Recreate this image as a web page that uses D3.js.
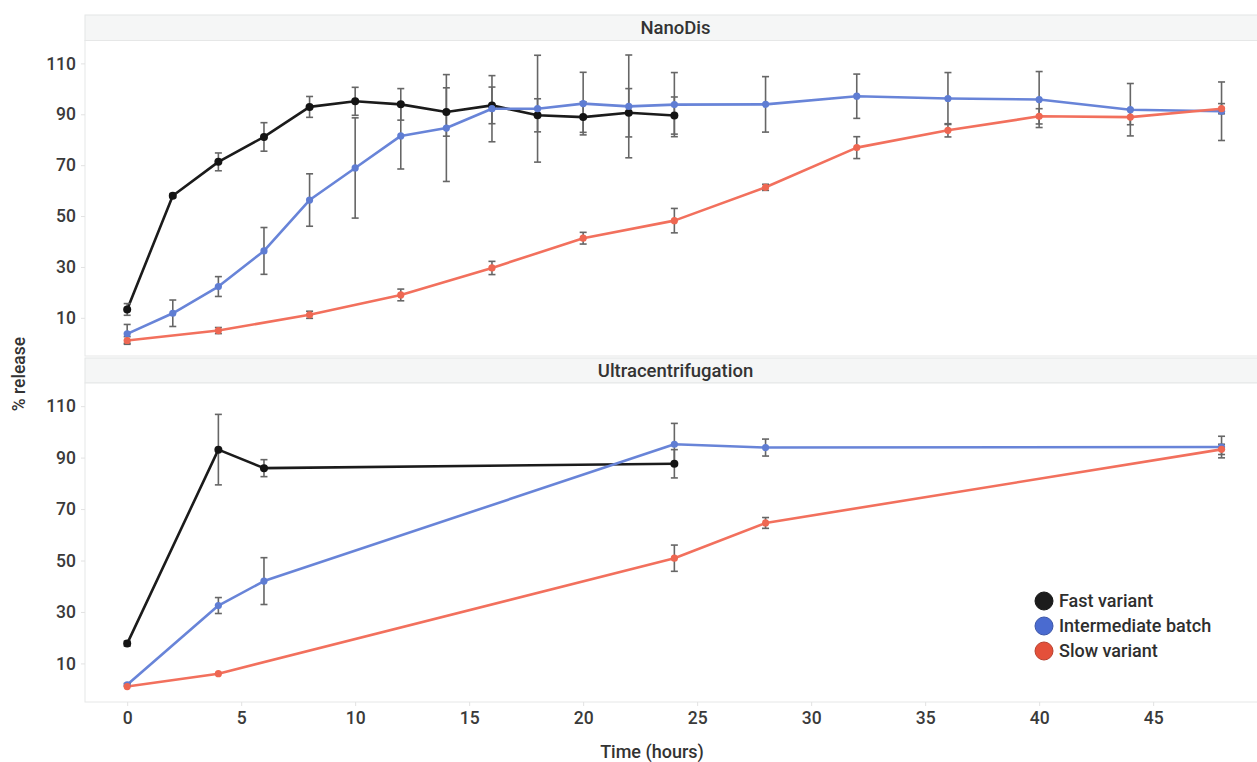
<!DOCTYPE html>
<meta charset="utf-8">
<script src="https://d3js.org/d3.v7.min.js"></script>
<style>
body { margin: 0; background: #fff; }
text { font-family: Roboto, "Noto Sans", sans-serif; }
</style>
<body>
<script>

// panel names and series
var panelNames = ["NanoDis", "Ultracentrifugation"];
var seriesNames = ["Fast variant", "Intermediate batch", "Slow variant"];
var xTicks = [0, 5, 10, 15, 20, 25, 30, 35, 40, 45];
var yTicks = [10, 30, 50, 70, 90, 110];

// NanoDis
var nanoFastTime = [0, 2, 4, 6, 8, 10, 12, 14, 16, 18, 20, 22, 24];
var nanoFastMean = [13.3, 58.0, 71.3, 81.1, 92.9, 95.1, 93.9, 90.9, 93.5, 89.6, 88.9, 90.6, 89.5];
var nanoFastErr  = [2.3, 0.8, 3.5, 5.6, 4.1, 5.5, 6.2, 9.5, 7.2, 6.5, 6.0, 9.5, 7.3];

var nanoInterTime = [0, 2, 4, 6, 8, 10, 12, 14, 16, 18, 20, 22, 24, 28, 32, 36, 40, 44, 48];
var nanoInterMean = [3.7, 11.8, 22.3, 36.3, 56.3, 68.9, 81.5, 84.6, 92.2, 92.2, 94.2, 93.1, 93.8, 93.9, 97.1, 96.2, 95.8, 91.8, 91.2];
var nanoInterErr  = [3.7, 5.2, 3.9, 9.2, 10.3, 19.7, 13.0, 21.0, 13.0, 21.0, 12.3, 20.2, 12.6, 10.9, 8.7, 10.2, 11.0, 10.3, 11.5];

var nanoSlowTime = [0, 4, 8, 12, 16, 20, 24, 28, 32, 36, 40, 44, 48];
var nanoSlowMean = [1.1, 5.0, 11.2, 19.0, 29.6, 41.3, 48.2, 61.3, 76.9, 83.7, 89.2, 88.9, 92.2];
var nanoSlowErr  = [1.5, 1.2, 1.4, 2.3, 2.6, 2.3, 4.8, 1.2, 4.3, 2.6, 3.0, 3.0, 2.0];

// Ultracentrifugation
var ultraFastTime = [0, 4, 6, 24];
var ultraFastMean = [17.7, 93.1, 85.9, 87.6];
var ultraFastErr  = [1.0, 13.7, 3.3, 5.5];

var ultraInterTime = [0, 4, 6, 24, 28, 48];
var ultraInterMean = [1.7, 32.5, 42.0, 95.2, 93.9, 94.1];
var ultraInterErr  = [0.5, 3.1, 9.1, 8.1, 3.3, 4.2];

var ultraSlowTime = [0, 4, 24, 28, 48];
var ultraSlowMean = [1.0, 6.0, 50.9, 64.6, 93.2];
var ultraSlowErr  = [0, 0, 5.1, 2.1, 2.0];

function pts(t, m, e) {
  return t.map(function(d, i) { return {t: d, m: m[i], e: e[i]}; });
}

var panelData = [
  [pts(nanoFastTime, nanoFastMean, nanoFastErr),
   pts(nanoInterTime, nanoInterMean, nanoInterErr),
   pts(nanoSlowTime, nanoSlowMean, nanoSlowErr)],
  [pts(ultraFastTime, ultraFastMean, ultraFastErr),
   pts(ultraInterTime, ultraInterMean, ultraInterErr),
   pts(ultraSlowTime, ultraSlowMean, ultraSlowErr)]
];

var lineColors   = ["#1b1b1b", "#6884d8", "#f2705d"];
var pointColors  = ["#141414", "#5f7dd3", "#ee6752"];
var legendColors = ["#1c1c1c", "#4a6bd0", "#e4503a"];

var width = 1257, height = 762;
var left = 85, right = 1266;
var panels = [
  {stripTop: 15, top: 40.5, bottom: 356},
  {stripTop: 358, top: 383, bottom: 702}
];

var svg = d3.select("body")
  .append("svg")
    .attr("width", width)
    .attr("height", height);

var x = d3.scaleLinear()
  .domain([-1.85, 49.95])
  .range([left, right]);

panels.forEach(function(p, pi) {
  var y = d3.scaleLinear()
    .domain([-5, 119])
    .range([p.bottom, p.top]);

  // strip
  svg.append("rect")
    .attr("x", left).attr("y", p.stripTop)
    .attr("width", right - left).attr("height", p.top - p.stripTop)
    .attr("fill", "#f5f6f6")
    .attr("stroke", "#e4e6e6");
  svg.append("text")
    .attr("x", (left + right) / 2)
    .attr("y", (p.stripTop + p.top) / 2)
    .attr("dy", "0.35em")
    .attr("text-anchor", "middle")
    .style("font-size", "18.5px")
    .style("font-weight", 500)
    .style("fill", "#333")
    .text(panelNames[pi]);

  // plot area
  svg.append("rect")
    .attr("x", left).attr("y", p.top)
    .attr("width", right - left).attr("height", p.bottom - p.top)
    .attr("fill", "#fff")
    .attr("stroke", "#e6e7e7");

  // y axis
  var ya = svg.append("g")
    .attr("transform", "translate(" + left + ",0)")
    .call(d3.axisLeft(y).tickValues(yTicks).tickSize(4).tickPadding(5));
  ya.select(".domain").remove();
  ya.selectAll(".tick line").attr("stroke", "#e2e2e2");
  ya.selectAll(".tick text")
    .style("font-size", "17.5px")
    .style("font-weight", 500)
    .style("fill", "#3a3a3a");

  var line = d3.line()
    .x(function(d) { return x(d.t); })
    .y(function(d) { return y(d.m); });

  var series = panelData[pi];

  // lines
  series.forEach(function(s, si) {
    svg.append("path")
      .datum(s)
      .attr("fill", "none")
      .attr("stroke", lineColors[si])
      .attr("stroke-width", 2.6)
      .attr("stroke-linejoin", "round")
      .attr("d", line);
  });

  // error bars
  series.forEach(function(s, si) {
    var g = svg.append("g")
      .attr("stroke", "#666")
      .attr("stroke-width", 1.6);
    var eb = g.selectAll("g")
      .data(s.filter(function(d) { return d.e > 0; }))
      .enter().append("g");
    eb.append("line")
      .attr("x1", function(d) { return x(d.t); })
      .attr("x2", function(d) { return x(d.t); })
      .attr("y1", function(d) { return y(d.m - d.e); })
      .attr("y2", function(d) { return y(d.m + d.e); });
    [-1, 1].forEach(function(sign) {
      eb.append("line")
        .attr("x1", function(d) { return x(d.t) - 3.5; })
        .attr("x2", function(d) { return x(d.t) + 3.5; })
        .attr("y1", function(d) { return y(d.m + sign * d.e); })
        .attr("y2", function(d) { return y(d.m + sign * d.e); });
    });
  });

  // points
  series.forEach(function(s, si) {
    svg.append("g")
      .selectAll("circle")
      .data(s)
      .enter()
      .append("circle")
        .attr("cx", function(d) { return x(d.t); })
        .attr("cy", function(d) { return y(d.m); })
        .attr("r", si == 0 ? 4 : 3.6)
        .attr("fill", pointColors[si]);
  });
});

// x axis under the bottom panel
var xa = svg.append("g")
  .attr("transform", "translate(0," + panels[1].bottom + ")")
  .call(d3.axisBottom(x).tickValues(xTicks).tickSize(4).tickPadding(6));
xa.select(".domain").remove();
xa.selectAll(".tick line").attr("stroke", "#e2e2e2");
xa.selectAll(".tick text")
  .style("font-size", "17.5px")
  .style("font-weight", 500)
  .style("fill", "#3a3a3a");

// axis titles
svg.append("text")
  .attr("x", 652).attr("y", 752)
  .attr("dy", "0.35em")
  .attr("text-anchor", "middle")
  .style("font-size", "18px")
  .style("font-weight", 500)
  .style("fill", "#333")
  .text("Time (hours)");

svg.append("text")
  .attr("transform", "translate(19,374) rotate(-90)")
  .attr("dy", "0.35em")
  .attr("text-anchor", "middle")
  .style("font-size", "17.5px")
  .style("font-weight", 500)
  .style("fill", "#333")
  .text("% release");

// legend
var legend = svg.append("g")
  .attr("transform", "translate(1044,601)");
seriesNames.forEach(function(name, i) {
  legend.append("circle")
    .attr("cx", 0).attr("cy", i * 25)
    .attr("r", 9)
    .attr("fill", legendColors[i])
    .attr("stroke", d3.color(legendColors[i]).darker(0.6))
    .attr("stroke-width", 1);
  legend.append("text")
    .attr("x", 15).attr("y", i * 25)
    .attr("dy", "0.35em")
    .style("font-size", "18px")
    .style("font-weight", 500)
    .style("fill", "#2e2e2e")
    .text(name);
});

</script>
</body>
